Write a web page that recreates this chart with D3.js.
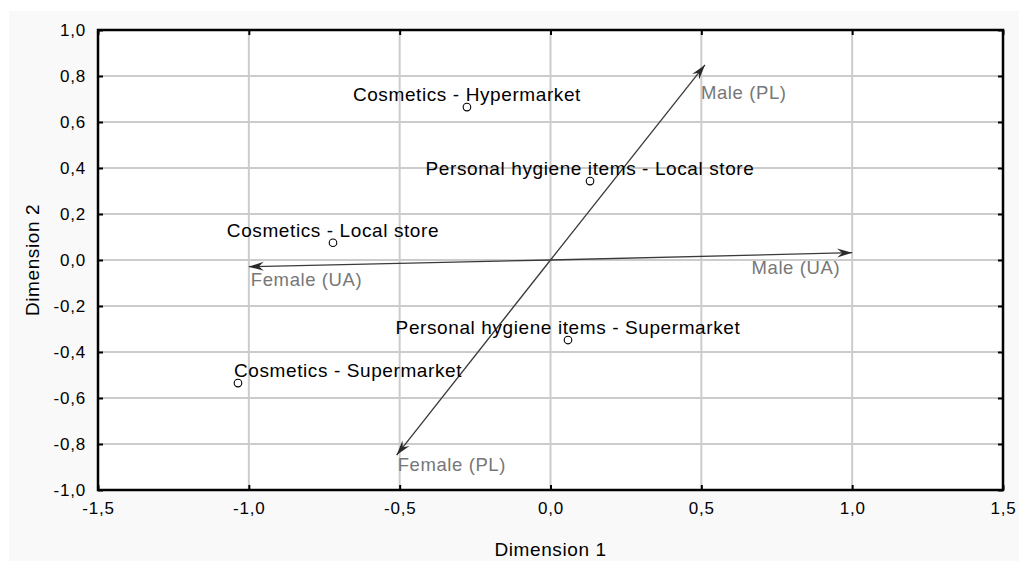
<!DOCTYPE html>
<html>
<head>
<meta charset="utf-8">
<script src="https://cdn.jsdelivr.net/npm/d3@7/dist/d3.min.js"></script>
<style>
  html, body { margin: 0; padding: 0; background: #fff; }
  svg text { font-family: "Liberation Sans", Arial, sans-serif; }
</style>
</head>
<body>
<div id="chart"></div>
<script>
// point categories (row profiles) and their coordinates
var pointNames = ["Cosmetics - Hypermarket", "Personal hygiene items - Local store",
  "Cosmetics - Local store", "Personal hygiene items - Supermarket", "Cosmetics - Supermarket"];
var pointDim1 = [-0.277, 0.131, -0.721, 0.058, -1.036];
var pointDim2 = [0.665, 0.343, 0.075, -0.348, -0.535];

// column vectors
var vectorNames = ["Male (PL)", "Male (UA)", "Female (UA)", "Female (PL)"];
var vectorDim1 = [0.512, 1.0, -1.0, -0.51];
var vectorDim2 = [0.848, 0.032, -0.029, -0.848];

// axis ticks
var xTicks = [-1.5, -1.0, -0.5, 0.0, 0.5, 1.0, 1.5];
var yTicks = [-1.0, -0.8, -0.6, -0.4, -0.2, 0.0, 0.2, 0.4, 0.6, 0.8, 1.0];

// label placement (pixels)
var pointLabelAnchor = ["middle", "middle", "middle", "middle", "start"];
var pointLabelDx = [0, 0, 0, 0, -4];
var vectorLabelLayout = [
  {anchor: "start", dx: -4, dy: 34},
  {anchor: "end", dx: -12, dy: 21},
  {anchor: "start", dx: 2, dy: 19},
  {anchor: "start", dx: 1, dy: 16}
];

var W = 1019, H = 561;
var margin = {top: 30, right: 16, bottom: 71, left: 98};

var svg = d3.select("#chart").append("svg")
    .attr("width", W)
    .attr("height", H);

svg.append("rect")
    .attr("x", 9).attr("y", 11)
    .attr("width", W - 9).attr("height", H - 11)
    .attr("fill", "#f9f9f9");

var x = d3.scaleLinear().domain([-1.5, 1.5]).range([margin.left, W - margin.right]);
var y = d3.scaleLinear().domain([-1, 1]).range([H - margin.bottom, margin.top]);
var fmt = function(v) { return d3.format(".1f")(v).replace(".", ",").replace("−", "-"); };

svg.append("rect")
    .attr("x", x(-1.5)).attr("y", y(1))
    .attr("width", x(1.5) - x(-1.5)).attr("height", y(-1) - y(1))
    .attr("fill", "#fff");

// grid
var grid = svg.append("g").attr("stroke", "#cccccc").attr("stroke-width", 2);
grid.selectAll(".gx").data(xTicks.slice(1, -1)).enter().append("line")
    .attr("x1", function(d) { return x(d); }).attr("x2", function(d) { return x(d); })
    .attr("y1", y(1)).attr("y2", y(-1));
grid.selectAll(".gy").data(yTicks.slice(1, -1)).enter().append("line")
    .attr("y1", function(d) { return y(d); }).attr("y2", function(d) { return y(d); })
    .attr("x1", x(-1.5)).attr("x2", x(1.5));

// axes with inner ticks on all four sides
function styleAxis(g) {
  g.select(".domain").remove();
  g.selectAll(".tick line").attr("stroke", "#000").attr("stroke-width", 2);
}
svg.append("g").attr("transform", "translate(0," + y(-1) + ")")
    .call(d3.axisBottom(x).tickValues(xTicks).tickSize(-5).tickPadding(12).tickFormat(fmt))
    .call(styleAxis);
svg.append("g").attr("transform", "translate(0," + y(1) + ")")
    .call(d3.axisTop(x).tickValues(xTicks).tickSize(-5).tickFormat(""))
    .call(styleAxis);
svg.append("g").attr("transform", "translate(" + x(-1.5) + ",0)")
    .call(d3.axisLeft(y).tickValues(yTicks).tickSize(-5).tickPadding(12).tickFormat(fmt))
    .call(styleAxis);
svg.append("g").attr("transform", "translate(" + x(1.5) + ",0)")
    .call(d3.axisRight(y).tickValues(yTicks).tickSize(-5).tickFormat(""))
    .call(styleAxis);

svg.selectAll(".tick text")
    .attr("fill", "#000")
    .style("font-size", "17px")
    .style("letter-spacing", "0.8px");

// frame
svg.append("rect")
    .attr("x", x(-1.5)).attr("y", y(1))
    .attr("width", x(1.5) - x(-1.5)).attr("height", y(-1) - y(1))
    .attr("fill", "none").attr("stroke", "#000").attr("stroke-width", 2.5);

// axis titles
svg.append("text")
    .attr("x", x(0)).attr("y", 556)
    .attr("text-anchor", "middle")
    .style("font-size", "19px").style("letter-spacing", "0.6px")
    .text("Dimension 1");
svg.append("text")
    .attr("transform", "translate(39," + y(0) + ") rotate(-90)")
    .attr("text-anchor", "middle")
    .style("font-size", "19px").style("letter-spacing", "0.6px")
    .text("Dimension 2");

// vectors
var vectors = vectorNames.map(function(n, i) {
  return {name: n, x: vectorDim1[i], y: vectorDim2[i], lay: vectorLabelLayout[i]};
});
var vg = svg.selectAll(".vector").data(vectors).enter().append("g").attr("class", "vector");
vg.append("line")
    .attr("x1", x(0)).attr("y1", y(0))
    .attr("x2", function(d) { return x(d.x); })
    .attr("y2", function(d) { return y(d.y); })
    .attr("stroke", "#3a3a3a").attr("stroke-width", 1.3);
vg.append("path")
    .attr("d", function(d) {
      var tx = x(d.x), ty = y(d.y);
      var a = Math.atan2(ty - y(0), tx - x(0));
      var L = 15, w = 4.5, notch = 10;
      var bx = tx - L * Math.cos(a), by = ty - L * Math.sin(a);
      var nx = tx - notch * Math.cos(a), ny = ty - notch * Math.sin(a);
      var px = -Math.sin(a), py = Math.cos(a);
      return "M" + tx + "," + ty +
        "L" + (bx + w * px) + "," + (by + w * py) +
        "L" + nx + "," + ny +
        "L" + (bx - w * px) + "," + (by - w * py) + "Z";
    })
    .attr("fill", "#2a2a2a");
vg.append("text")
    .attr("x", function(d) { return x(d.x) + d.lay.dx; })
    .attr("y", function(d) { return y(d.y) + d.lay.dy; })
    .attr("text-anchor", function(d) { return d.lay.anchor; })
    .attr("fill", "#777777")
    .style("font-size", "18.5px").style("letter-spacing", "0.6px")
    .text(function(d) { return d.name; });

// points
var points = pointNames.map(function(n, i) {
  return {name: n, x: pointDim1[i], y: pointDim2[i], anchor: pointLabelAnchor[i], dx: pointLabelDx[i]};
});
var pg = svg.selectAll(".point").data(points).enter().append("g").attr("class", "point");
pg.append("text")
    .attr("x", function(d) { return x(d.x) + d.dx; })
    .attr("y", function(d) { return y(d.y) - 6; })
    .attr("text-anchor", function(d) { return d.anchor; })
    .attr("fill", "#000")
    .style("font-size", "19px").style("letter-spacing", "0.6px")
    .text(function(d) { return d.name; });
pg.append("circle")
    .attr("cx", function(d) { return x(d.x); })
    .attr("cy", function(d) { return y(d.y); })
    .attr("r", 3.8)
    .attr("fill", "none")
    .attr("stroke", "#000").attr("stroke-width", 1.1);
</script>
</body>
</html>
